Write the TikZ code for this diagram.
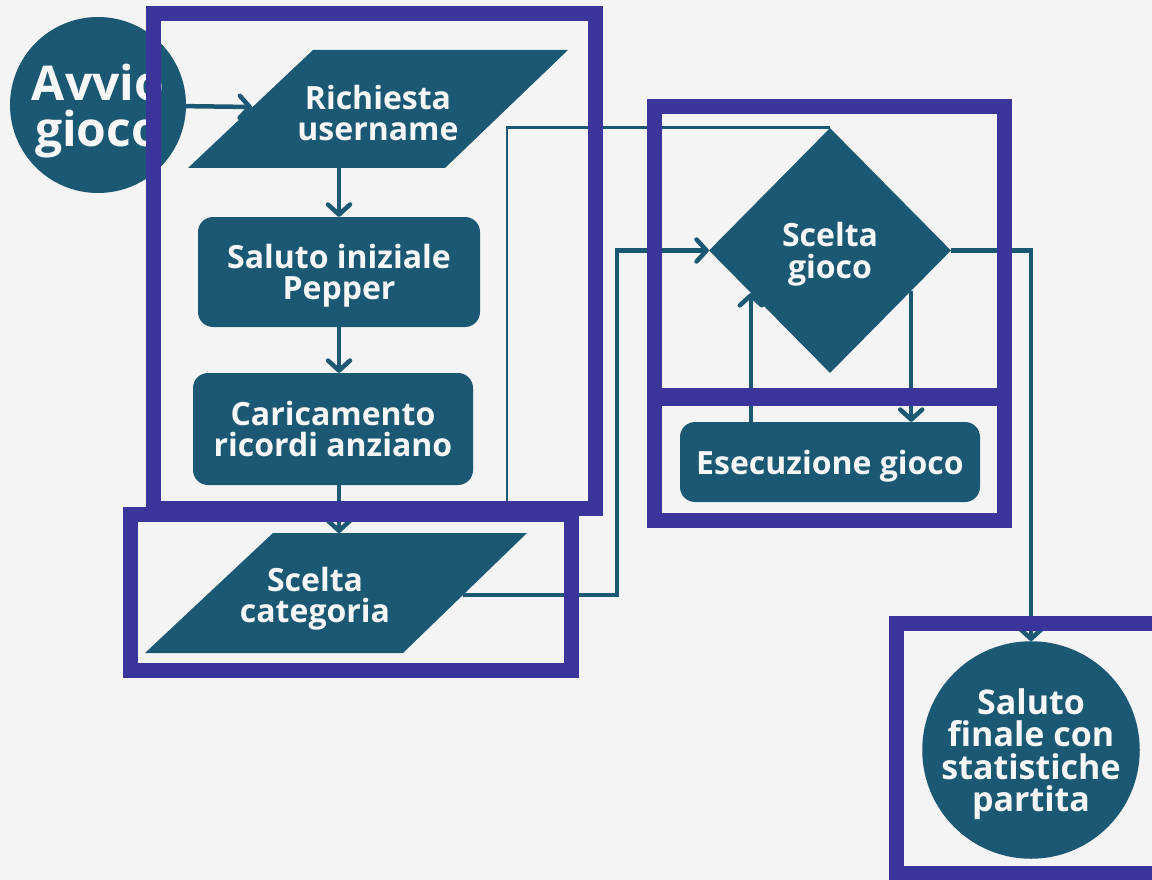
\documentclass[tikz,border=0pt]{standalone}
\usepackage{fontspec}
\setmainfont{Open Sans}
\usetikzlibrary{arrows.meta,shapes.geometric,calc}
\definecolor{flowteal}{HTML}{1A5873}
\definecolor{framebl}{HTML}{3A349B}
\definecolor{paper}{HTML}{F4F4F5}
\definecolor{ink}{HTML}{F7F7F7}

\begin{document}
\begin{tikzpicture}[x=1pt,y=-1pt,
  conn/.style={draw=flowteal, line width=4.5pt, -{Straight Barb[length=10pt,width=22pt,round]}},
  thinconn/.style={draw=flowteal, line width=2.6pt},
  lbl/.style={text=ink, font=\bfseries\fontsize{32}{31.5}\selectfont, align=center, inner sep=0pt, text depth=0pt},
  procbox/.style={lbl, fill=flowteal, rounded corners=15pt},
  iobox/.style={fill=flowteal},
  group/.style={draw=framebl, line width=15pt}
]
% page and background
\useasboundingbox (0,0) rectangle (1152,880);
\fill[paper] (0,0) rectangle (1152,880);

% start / end terminals
\node[circle, fill=flowteal, minimum size=176pt, inner sep=0pt, text=ink, text depth=0pt,
      font=\bfseries\fontsize{48}{46}\selectfont, align=center] (avvio) at (98,105) {Avvio\\gioco};
\node[circle, fill=flowteal, minimum size=215pt, inner sep=0pt, text=ink, text depth=0pt,
      font=\bfseries\fontsize{34}{32.5}\selectfont, align=center] (fin) at (1031,750) {Saluto\\finale con\\statistiche\\partita};

% input: username
\fill[iobox] (313,50) -- (568,50) -- (445,168) -- (188,168) -- cycle;
\node[lbl] (rich) at (378,113) {Richiesta\\username};
\coordinate (richW) at (252,107);
\coordinate (richS) at (339,168);

% processes
\node[procbox, minimum width=282pt, minimum height=110pt] (sal) at (339,272) {Saluto iniziale\\Pepper};
\node[procbox, minimum width=280pt, minimum height=112pt] (car) at (333,429) {Caricamento\\ricordi anziano};

% input: category
\fill[iobox] (273,533) -- (527,533) -- (403,653) -- (145,653) -- cycle;
\node[lbl] (cat) at (315,595) {Scelta\\categoria};
\coordinate (catN) at (339,533);
\coordinate (catE) at (463,595);
\coordinate (bendA) at (617,595);

% game choice and game run
\node[diamond, fill=flowteal, minimum width=242pt, minimum height=245pt, inner sep=0pt,
      text=ink, text depth=0pt, font=\bfseries\fontsize{32}{31.5}\selectfont, align=center] (dia) at (830,250.5) {Scelta\\gioco};
\node[procbox, minimum width=300pt, minimum height=80pt] (exe) at (830,462) {Esecuzione gioco};
\coordinate (upT) at ($(dia.west)!0.347!(dia.south)$);
\coordinate (dnS) at ($(dia.east)!0.33!(dia.south)$);
\coordinate (loopS) at (507,502);

% connectors
\draw[conn] (avvio) -- (richW);
\draw[conn] (richS) -- (richS |- sal.north);
\draw[conn] (sal.south) -- (sal.south |- car.north);
\draw[conn] (car.south -| catN) -- (catN);
\draw[conn] (catE) -- (bendA) |- (dia.west);
\draw[thinconn] (loopS) |- (dia.north);
\draw[conn] (upT |- exe.north) -- (upT);
\draw[conn] (dnS) -- (dnS |- exe.north);
\draw[conn] (dia.east) -| (fin.north);

% grouping frames
\draw[group] (153,14) rectangle (595,508);
\draw[group] (130,514) rectangle (571,670);
\draw[group] (654,107) rectangle (1004,395);
\draw[group] (654,398) rectangle (1004,520);
\draw[group] (896,623) rectangle (1170,873);
\end{tikzpicture}
\end{document}
